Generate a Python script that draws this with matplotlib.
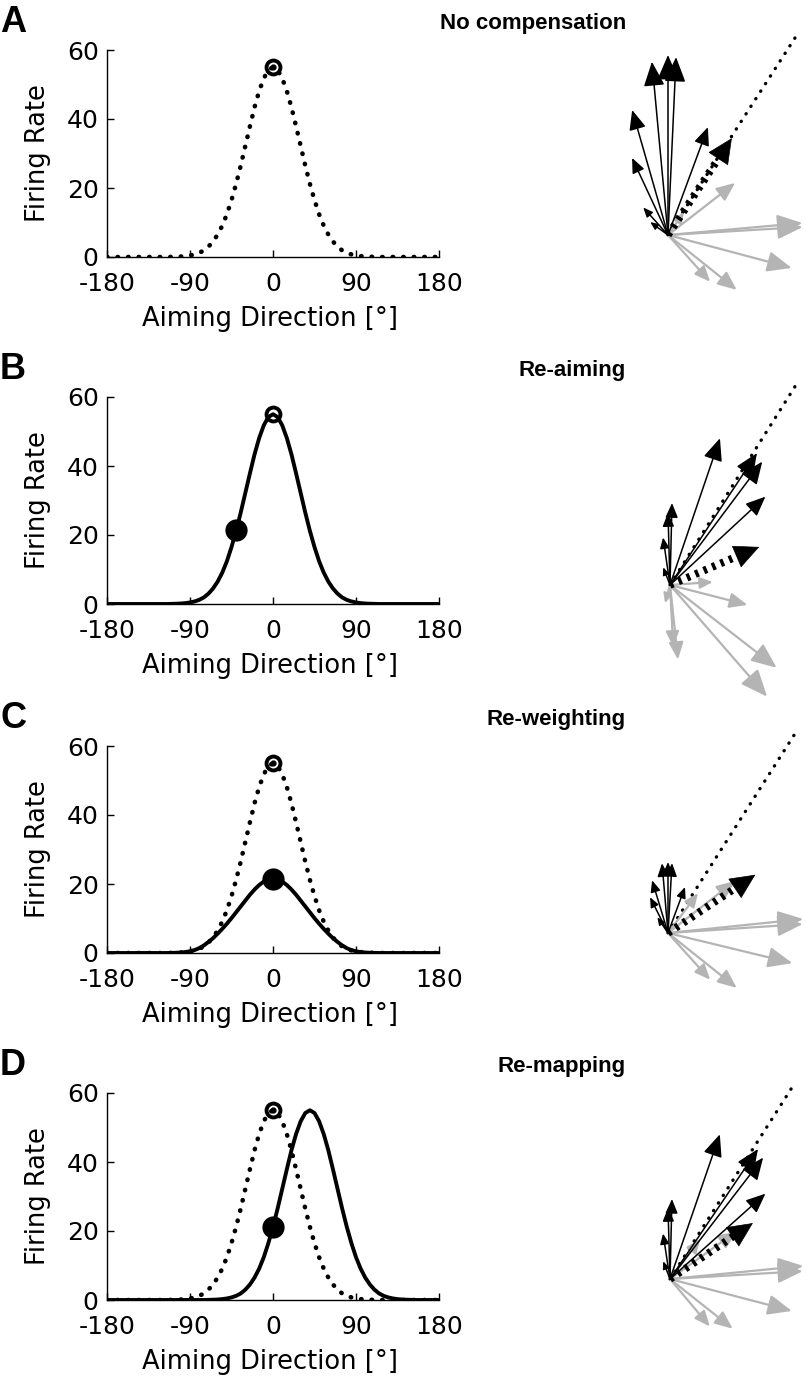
import numpy as np
import matplotlib
matplotlib.use("Agg")
import matplotlib.pyplot as plt

plt.rcParams['font.family'] = ['DejaVu Sans']
plt.rcParams['axes.unicode_minus'] = False

# aiming direction grid (deg) and tuning curves
aim = list(range(-180, 185, 5))
base_half = [55, 54.2, 51.8, 48.1, 43.4, 37.9, 32.2, 26.5, 21.2, 16.5, 12.4, 9.1, 6.5,
             4.5, 3.0, 1.9, 1.2, 0.75, 0.45, 0.26, 0.14, 0.08, 0.04] + [0] * 14
baseline = base_half[:0:-1] + base_half          # original tuning curve
reweight_half = [21.5, 21.3, 20.7, 19.7, 18.4, 16.9, 15.2, 13.5, 11.8, 10.1, 8.5, 7.0,
                 5.6, 4.3, 3.2, 2.2, 1.4, 0.85, 0.5, 0.28, 0.14, 0.07, 0.03] + [0] * 14
reweighted = reweight_half[:0:-1] + reweight_half
remapped = ([0] * 22 +
            [0.04, 0.08, 0.14, 0.26, 0.45, 0.75, 1.2, 1.9, 3.0, 4.5, 6.5, 9.1, 12.4, 16.5,
             21.2, 26.5, 32.2, 37.9, 43.4, 48.1, 51.8, 54.2, 55, 54.2, 51.8, 48.1, 43.4,
             37.9, 32.2, 26.5, 21.2, 16.5, 12.4, 9.1, 6.5, 4.5, 3.0, 1.9, 1.2, 0.75, 0.45,
             0.26, 0.14, 0.08, 0.04] + [0] * 6)

open_pt = (0, 55)
filled_pts = [None, (-40, 21.4), (0, 21.5), (0, 21.2)]

titles = ['No compensation', 'Re-aiming', 'Re-weighting', 'Re-mapping']
letters = ['A', 'B', 'C', 'D']

# population vectors: (angle deg, length px)
black_vecs = [
    [(95.3, 174), (90, 180), (87.4, 178), (106, 130), (115, 85), (132, 37), (69.7, 115), (144, 22)],
    [(71.2, 155), (56.6, 158), (53.2, 154), (42.8, 130), (88.6, 82), (91.6, 72), (98.3, 48), (111, 19)],
    [(94.9, 70), (90, 71), (86.7, 70), (106.8, 55), (116.6, 40), (69.7, 49), (124, 19)],
    [(71, 153), (55.9, 157), (52.5, 153), (41.8, 128), (88.6, 80), (91.6, 71), (98.7, 46), (111, 19)],
]
gray_vecs = [
    [(37.8, 85), (5.1, 135), (3.4, 135), (-14.9, 128), (-48, 63), (-38.6, 88), (55, 28)],
    [(4, 43), (-14.4, 80), (-83.9, 75), (-87, 62), (-105, 19), (-37.8, 135), (-49, 148)],
    [(37.8, 85), (5.9, 136), (3.8, 135), (-13.6, 128), (-48, 63), (-38.6, 88), (53, 50)],
    [(35.6, 82), (5.6, 134), (3.4, 133), (-14.7, 126), (-50, 62), (-38.4, 80), (53, 50)],
]
pop_vec = [(56.6, 116), (23.1, 97), (33.7, 105), (34, 100)]
target_dir = [(57.2, 238), (57.8, 239), (57.5, 236), (57.5, 233)]

W, H = 806, 1378
fig = plt.figure(figsize=(W / 100, H / 100), dpi=100)

ax_tops = [50, 397, 746, 1093]
ax_h = 207
origins = [(668, 235), (670, 585), (668, 933), (670, 1279)]

# overlay axes in pixel units for the vector diagrams
ov = fig.add_axes([0, 0, 1, 1])
ov.set_xlim(0, W)
ov.set_ylim(H, 0)
ov.axis('off')


def arrow(ox, oy, ang, L, color, lw, hl, hw, z=3):
    a = np.deg2rad(ang)
    tip = (ox + L * np.cos(a), oy - L * np.sin(a))
    ov.annotate('', xy=tip, xytext=(ox, oy),
                arrowprops=dict(arrowstyle=f'-|>,head_length={hl},head_width={hw}',
                                color=color, lw=lw, shrinkA=0, shrinkB=0,
                                mutation_scale=1), zorder=z)


dotted = dict(color='k', lw=3.3, linestyle=(0, (0.1, 2.2)), dash_capstyle='round')

for i in range(4):
    top = ax_tops[i]
    ax = fig.add_axes([107 / W, 1 - (top + ax_h) / H, 332 / W, ax_h / H])
    if i == 0:
        ax.plot(aim, baseline, **dotted)
    elif i == 1:
        ax.plot(aim, baseline, color='k', lw=2.8)
    elif i == 2:
        ax.plot(aim, baseline, **dotted)
        ax.plot(aim, reweighted, color='k', lw=2.8)
    else:
        ax.plot(aim, baseline, **dotted)
        ax.plot(aim, remapped, color='k', lw=2.8)
    ax.plot(*open_pt, 'o', ms=10, mfc='none', mec='k', mew=2.8, zorder=5)
    if i != 1:
        ax.plot(*open_pt, 'o', ms=3.5, color='k', zorder=5)
    if filled_pts[i] is not None:
        ax.plot(*filled_pts[i], 'o', ms=16, color='k', mew=0, zorder=6)
    ax.set_xlim(-180, 180)
    ax.set_ylim(0, 60)
    ax.set_xticks([-180, -90, 0, 90, 180])
    ax.set_yticks([0, 20, 40, 60])
    ax.set_xticklabels(['-180', '-90', '0', '90', '180'])
    ax.tick_params(direction='in', length=5, width=1, labelsize=18)
    ax.tick_params(axis='x', pad=11)
    ax.tick_params(axis='y', pad=6)
    for s in ['top', 'right']:
        ax.spines[s].set_visible(False)
    ax.spines['left'].set_linewidth(1)
    ax.spines['bottom'].set_linewidth(1)
    ax.set_ylabel('Firing Rate', fontsize=18.5)
    ax.yaxis.set_label_coords(-0.17, 0.5)
    ax.set_xlabel('Aiming Direction [°]', fontsize=18.5, va='top')
    ax.xaxis.set_label_coords(0.49, -0.235)
    ax.patch.set_alpha(0)

    fig.text(626 / W, 1 - (top - 21) / H, titles[i], ha='right', va='baseline',
             fontsize=16, fontweight='bold', family='Liberation Sans')
    fig.text(0, 1 - (top - 18) / H, letters[i], ha='left', va='baseline',
             fontsize=26, fontweight='bold', family='Liberation Sans')

    ox, oy = origins[i]
    # target direction (dotted)
    ang, L = target_dir[i]
    a = np.deg2rad(ang)
    ov.plot([ox, ox + L * np.cos(a)], [oy, oy - L * np.sin(a)], color='k', lw=2.4,
            linestyle=(0, (0.1, 2.6)), dash_capstyle='round', zorder=2)
    for ang, L in gray_vecs[i]:
        arrow(ox, oy, ang, L, '#b4b4b4', 1.6, 4 + 0.085 * L, 1.8 + 0.035 * L, z=2)
    for ang, L in black_vecs[i]:
        arrow(ox, oy, ang, L, 'k', 1.1, 3 + 0.07 * L, 1.3 + 0.03 * L, z=3)
    # population vector (thick dashed)
    ang, L = pop_vec[i]
    a = np.deg2rad(ang)
    hl = 22
    ov.plot([ox, ox + (L - hl * 0.8) * np.cos(a)], [oy, oy - (L - hl * 0.8) * np.sin(a)],
            color='k', lw=5.5, linestyle=(0, (0.45, 0.75)), zorder=4)
    tip = (ox + L * np.cos(a), oy - L * np.sin(a))
    base = (ox + (L - hl) * np.cos(a), oy - (L - hl) * np.sin(a))
    ov.annotate('', xy=tip, xytext=base,
                arrowprops=dict(arrowstyle='-|>,head_length=17,head_width=8',
                                color='k', lw=0.5, shrinkA=0, shrinkB=0,
                                mutation_scale=1), zorder=4)

fig.savefig('out.png', dpi=100)
